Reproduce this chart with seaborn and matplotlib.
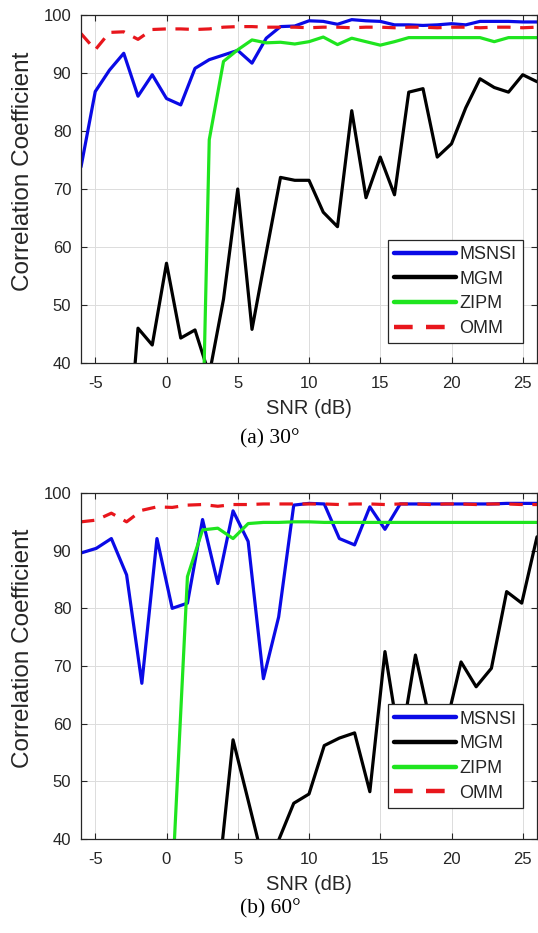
import matplotlib
matplotlib.use("Agg")
import matplotlib.pyplot as plt
import seaborn as sns
import pandas as pd

# ---------------- data ----------------
snr_a = [-6, -5, -4, -3, -2, -1, 0, 1, 2, 3, 4, 5, 6, 7, 8, 9, 10, 11, 12, 13,
         14, 15, 16, 17, 18, 19, 20, 21, 22, 23, 24, 25, 26]
msnsi_a = [73.8, 86.8, 90.5, 93.4, 86.0, 89.7, 85.6, 84.5, 90.8, 92.3, 93.1, 93.9,
           91.7, 96.0, 98.0, 98.1, 99.0, 98.9, 98.4, 99.2, 99.0, 98.9, 98.3, 98.3,
           98.2, 98.3, 98.5, 98.3, 98.9, 98.9, 98.9, 98.8, 98.8]
mgm_a = [15, 15, 15, 16, 46.0, 43.1, 57.2, 44.3, 45.7, 38.0, 51.0, 70.0, 45.8,
         59.0, 72.0, 71.5, 71.5, 66.0, 63.5, 83.5, 68.5, 75.5, 69.0, 86.7, 87.3,
         75.5, 77.8, 84.0, 89.0, 87.5, 86.7, 89.7, 88.5]
zipm_a = [-30, -30, -30, -30, -30, -30, -30, -30, -30, 78.5, 92.0, 94.0, 95.7,
          95.2, 95.3, 95.0, 95.4, 96.2, 94.9, 96.0, 95.4, 94.8, 95.4, 96.1, 96.1,
          96.1, 96.1, 96.1, 96.1, 95.4, 96.1, 96.1, 96.1]
omm_a = [96.8, 94.0, 97.0, 97.1, 95.8, 97.5, 97.6, 97.6, 97.5, 97.6, 97.9, 98.0,
         98.0, 97.9, 97.9, 97.9, 97.8, 97.9, 97.9, 97.8, 97.9, 97.9, 97.8, 97.9,
         97.9, 97.8, 97.9, 97.9, 97.8, 97.9, 97.9, 97.8, 97.9]

snr_b = [-6, -4.93, -3.87, -2.8, -1.73, -0.67, 0.4, 1.47, 2.53, 3.6, 4.67, 5.73,
         6.8, 7.87, 8.93, 10, 11.07, 12.13, 13.2, 14.27, 15.33, 16.4, 17.47,
         18.53, 19.6, 20.67, 21.73, 22.8, 23.87, 24.93, 26]
msnsi_b = [89.6, 90.4, 92.1, 85.8, 67.0, 92.1, 80.0, 80.9, 95.4, 84.3, 96.9, 91.6,
           67.8, 78.5, 97.9, 98.2, 98.1, 92.1, 91.0, 97.6, 93.7, 98.1, 98.1, 98.1,
           98.1, 98.1, 98.1, 98.1, 98.2, 98.2, 98.2]
mgm_b = [20, 20, 20, 20, 20, 20, 20, 20, 22, 32.0, 57.2, 46.7, 36.0, 39.8, 46.2,
         47.8, 56.2, 57.5, 58.4, 48.2, 72.5, 56.0, 71.9, 60.0, 59.5, 70.7, 66.4,
         69.6, 82.9, 80.9, 92.4]
zipm_b = [20, 20, 20, 20, 20, 20, 32.0, 85.5, 93.6, 93.9, 92.1, 94.7, 94.9, 94.9,
          95.0, 95.0, 94.9, 94.9, 94.9, 94.9, 94.9, 94.9, 94.9, 94.9, 94.9, 94.9,
          94.9, 94.9, 94.9, 94.9, 94.9]
omm_b = [95.0, 95.3, 96.5, 95.0, 97.0, 97.6, 97.5, 97.9, 98.0, 97.7, 98.0, 98.0,
         98.1, 98.1, 98.1, 98.1, 98.1, 98.0, 98.1, 98.1, 98.0, 98.1, 98.1, 98.0,
         98.1, 98.1, 98.0, 98.1, 98.1, 98.0, 98.0]

methods = ["MSNSI", "MGM", "ZIPM", "OMM"]
x_ticks = [-5, 0, 5, 10, 15, 20, 25]
y_ticks = [40, 50, 60, 70, 80, 90, 100]
captions = ["(a) 30°", "(b) 60°"]

# ---------------- styling ----------------
sns.set_theme(style="white")
plt.rcParams["font.family"] = ["Liberation Sans", "DejaVu Sans"]
plt.rcParams["axes.unicode_minus"] = False

colors = {"MSNSI": "#0a0ae6", "MGM": "#000000", "ZIPM": "#1fe51f", "OMM": "#e8161c"}
LW = 2.3
TXT = "#262626"

fig = plt.figure(figsize=(5.38, 9.33), dpi=100)
ax_pos = [
    [81 / 538, 1 - 363 / 933, 456 / 538, 348 / 933],
    [81 / 538, 1 - 839 / 933, 456 / 538, 346 / 933],
]
legend_anchor = [(0.969, 0.057), (0.969, 0.090)]
cap_y = [1 - 439 / 933, 1 - 909 / 933]

panels = [
    (snr_a, [msnsi_a, mgm_a, zipm_a, omm_a]),
    (snr_b, [msnsi_b, mgm_b, zipm_b, omm_b]),
]

for i, (snr, series) in enumerate(panels):
    ax = fig.add_axes(ax_pos[i])
    df = pd.DataFrame({"SNR": snr})
    for name, vals in zip(methods, series):
        df[name] = vals
    for name in methods:
        kw = {}
        if name == "OMM":
            kw["linestyle"] = (0, (4.2, 3.0))
        sns.lineplot(data=df, x="SNR", y=name, ax=ax, color=colors[name],
                     linewidth=LW, label=name, **kw)
    ax.set_xlim(-6, 26)
    ax.set_ylim(40, 100)
    ax.set_xticks(x_ticks)
    ax.set_yticks(y_ticks)
    ax.grid(True, color="#dcdcdc", linewidth=0.7)
    ax.set_axisbelow(True)
    for sp in ax.spines.values():
        sp.set_color("#262626")
        sp.set_linewidth(0.9)
        sp.set_visible(True)
    ax.tick_params(direction="in", length=4, width=0.8, top=True, right=True,
                   bottom=True, left=True, labelsize=12, colors=TXT)
    ax.tick_params(axis="x", pad=9)
    ax.tick_params(axis="y", pad=7)
    ax.set_xlabel("SNR (dB)", fontsize=14.5, color=TXT, labelpad=6)
    ax.set_ylabel("Correlation Coefficient", fontsize=17.5, color=TXT)
    ax.yaxis.set_label_coords(-0.102, 0.55)
    leg = ax.legend(loc="lower right", bbox_to_anchor=legend_anchor[i],
                    borderaxespad=0, fontsize=13, frameon=True, fancybox=False,
                    framealpha=1, handlelength=3.4, handletextpad=0.2,
                    labelspacing=0.42, borderpad=0.35)
    leg.get_frame().set_edgecolor("#262626")
    leg.get_frame().set_linewidth(0.9)
    for t in leg.get_texts():
        t.set_color(TXT)
    for h in leg.get_lines():
        h.set_linewidth(3.2)
    fig.text(0.502, cap_y[i], captions[i], ha="center", va="center",
             fontsize=15.5, family=["Liberation Serif", "DejaVu Serif"], color="black")

fig.savefig("out.png", dpi=100)
